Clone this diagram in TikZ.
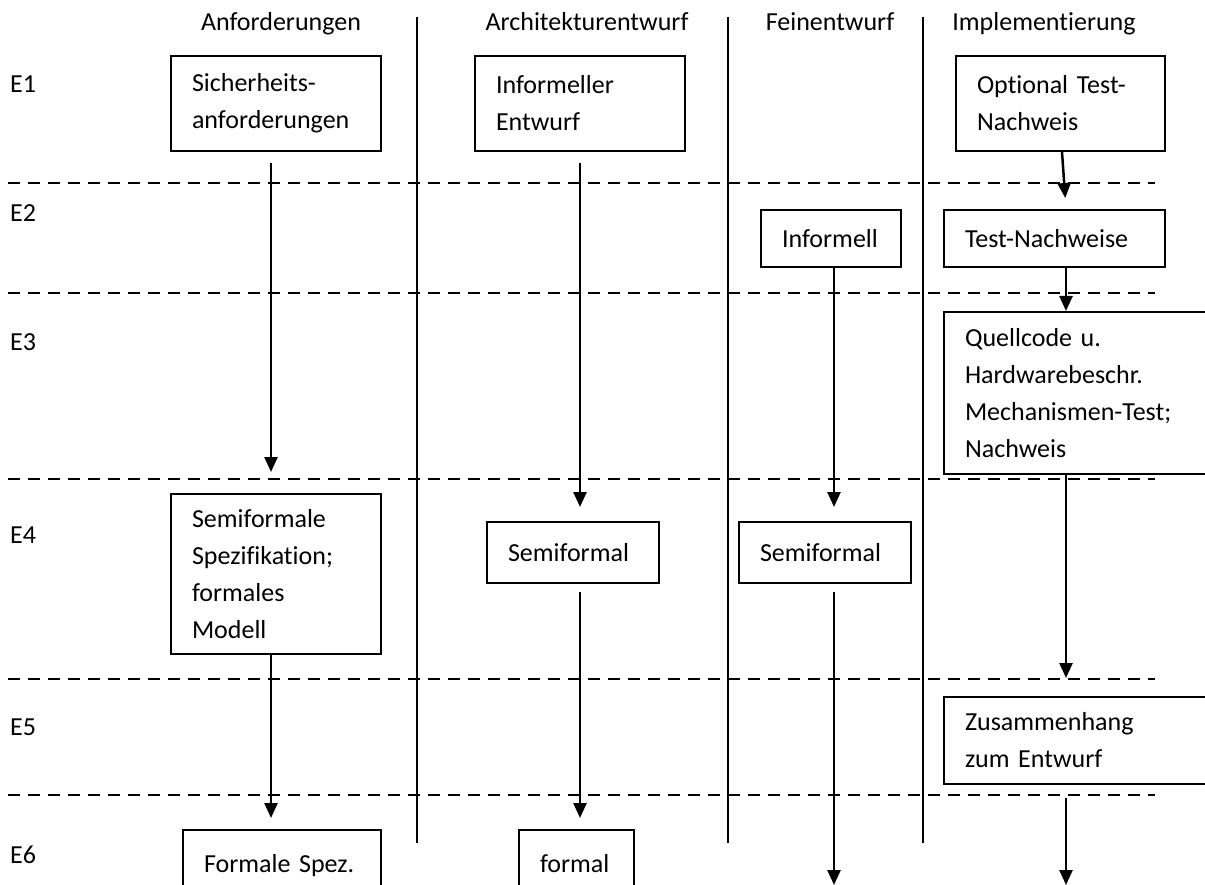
\documentclass[tikz,border=0pt]{standalone}
\usepackage{fontspec}
\setmainfont{Carlito}[Ligatures={NoCommon}]
\usetikzlibrary{arrows.meta}
\begin{document}
\begin{tikzpicture}[x=1pt,y=-1pt,
  every node/.style={font=\fontsize{26}{37}\selectfont},
  box/.style={draw,line width=2pt,anchor=north west,align=left,inner ysep=0pt,inner xsep=21pt},
  hdr/.style={anchor=base,inner sep=0pt},
  rowlbl/.style={anchor=base west,inner sep=0pt},
  sep/.style={line width=2pt,dash pattern=on 12pt off 8pt},
  col/.style={line width=1.5pt},
  arr/.style={line width=2.5pt,-{Triangle[length=15pt,width=13pt]}}]
\useasboundingbox (0,0) rectangle (1205,885);
% column headers
\node[hdr] (hA) at (281,31) {Anforderungen};
\node[hdr] (hB) at (587,31) {Architekturentwurf};
\node[hdr] (hC) at (830,31) {Feinentwurf};
\node[hdr] (hD) at (1044,31) {Implementierung};
% row labels
\node[rowlbl] (e1) at (10,93) {E1};
\node[rowlbl] (e2) at (10,222) {E2};
\node[rowlbl] (e3) at (10,351) {E3};
\node[rowlbl] (e4) at (10,543) {E4};
\node[rowlbl] (e5) at (10,735) {E5};
\node[rowlbl] (e6) at (10,863) {E6};
% separators
\foreach \y in {183,293,479,679,795} \draw[sep] (8,\y) -- (1155,\y);
\foreach \x in {417,728,923} \draw[col] (\x,17) -- (\x,843);
% boxes
\node[box,text width=168pt,minimum height=95pt] (sich) at (170,55) {Sicherheits-\\anforderungen};
\node[box,text width=168pt,minimum height=95pt] (infent) at (474,55) {Informeller\\Entwurf};
\node[box,text width=167pt,minimum height=95pt] (opt) at (955,55) {Optional Test-\\Nachweis};
\node[box,text width=98pt,minimum height=57pt] (infm) at (760,209) {Informell};
\node[box,text width=179pt,minimum height=57pt] (testn) at (943,209) {Test-Nachweise};
\node[box,text width=221pt,minimum height=162pt] (quell) at (943,311) {Quellcode u.\\Hardwarebeschr.\\Mechanismen-Test;\\Nachweis};
\node[box,text width=168pt,minimum height=160pt] (semspez) at (170,493) {Semiformale\\Spezifikation;\\formales\\Modell};
\node[box,text width=130pt,minimum height=61pt] (semarch) at (486,521) {Semiformal};
\node[box,text width=130pt,minimum height=61pt] (semfein) at (738,521) {Semiformal};
\node[box,text width=221pt,minimum height=87pt] (zus) at (943,696) {Zusammenhang\\zum Entwurf};
\node[box,text width=156pt,minimum height=72pt] (formspez) at (182,829) {Formale Spez.};
\node[box,text width=73pt,minimum height=72pt] (formal) at (518,829) {formal\vphantom{p}};
% free arrow ends
\coordinate (endC) at (834,885);
\coordinate (endD) at (1066,885);
% arrows
\draw[arr,shorten <=11pt,shorten >=21pt] (sich.south -| 271,0) -- (semspez.north -| 271,0);
\draw[arr,shorten >=11pt] (semspez.south -| 271,0) -- (formspez.north -| 271,0);
\draw[arr,shorten <=11pt,shorten >=14pt] (infent.south -| 580,0) -- (semarch.north -| 580,0);
\draw[arr,shorten <=8pt,shorten >=11pt] (semarch.south -| 580,0) -- (formal.north -| 580,0);
\draw[arr,shorten >=14pt] (infm.south -| 834,0) -- (semfein.north -| 834,0);
\draw[arr,shorten <=8pt] (semfein.south -| endC) -- (endC);
\draw[arr,shorten >=11pt] (opt.south -| 1062,0) -- (testn.north -| 1066,0);
\draw[arr] (testn.south -| 1066,0) -- (quell.north -| 1066,0);
\draw[arr,shorten >=18pt] (quell.south -| 1066,0) -- (zus.north -| 1066,0);
\draw[arr,shorten <=13pt] (zus.south -| endD) -- (endD);
\end{tikzpicture}
\end{document}
